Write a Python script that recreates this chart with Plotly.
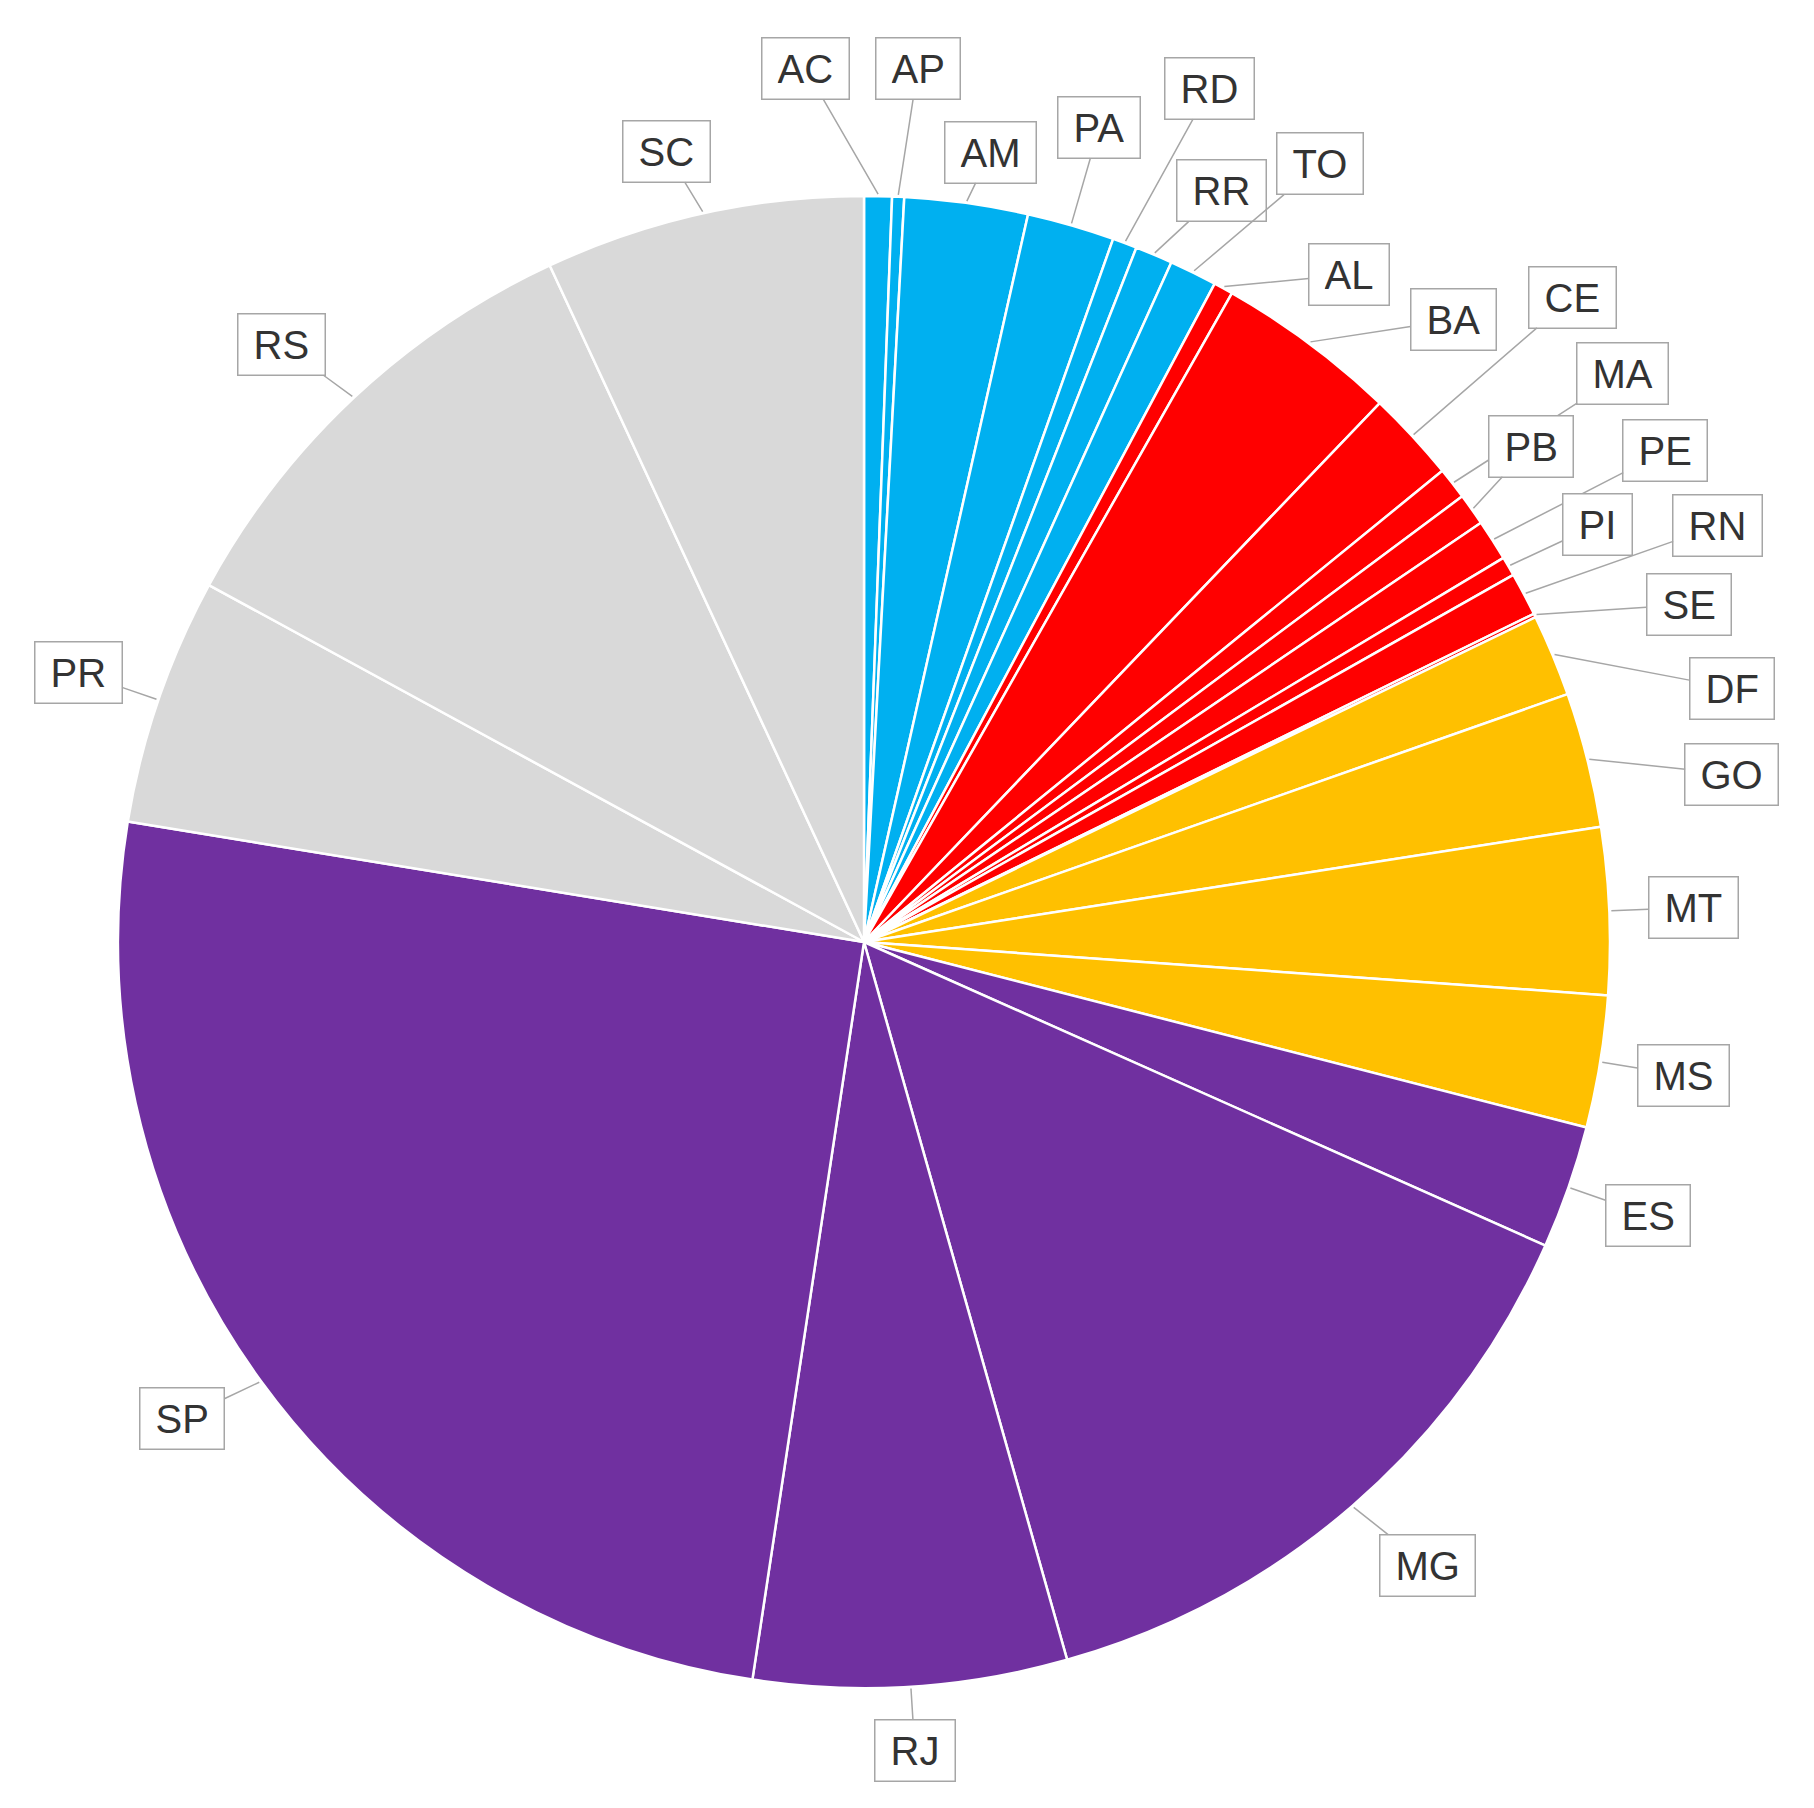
import math
import plotly.graph_objects as go

# states, clockwise from 12 o'clock
states = ["AC", "AP", "AM", "PA", "RD", "RR", "TO",
          "AL", "BA", "CE", "MA", "PB", "PE", "PI", "RN", "SE",
          "DF", "GO", "MT", "MS",
          "ES", "MG", "RJ", "SP",
          "PR", "RS", "SC"]
regions = (["Norte"] * 7 + ["Nordeste"] * 9 + ["Centro-Oeste"] * 4
           + ["Sudeste"] * 4 + ["Sul"] * 3)
shares = [0.60, 0.26, 2.67, 1.89, 0.53, 0.81, 1.03,
          0.42, 3.94, 1.97, 0.69, 0.69, 0.89, 0.42, 0.94, 0.08,
          1.78, 2.92, 3.61, 2.86,
          2.67, 13.94, 6.78, 25.19,
          5.36, 10.14, 6.92]

region_colors = {
    "Norte": "#00B0F0",
    "Nordeste": "#FF0000",
    "Centro-Oeste": "#FFC000",
    "Sudeste": "#7030A0",
    "Sul": "#D9D9D9",
}

# figure / pie geometry in pixels
W, H = 1798, 1792
CX, CY, R = 856, 934, 746

# label placement: (angle shift in degrees, distance from centre in px)
label_nudge = {
    "AC": (-4.9, 875), "AP": (0.9, 875), "AM": (1.2, 800), "PA": (0, 848),
    "RD": (1.6, 921), "RR": (2.6, 832), "TO": (4.2, 902), "AL": (7.2, 825),
    "BA": (6.8, 857), "CE": (0.4, 958), "MA": (1.1, 948), "PB": (-1.2, 831),
    "PE": (1.1, 940), "PI": (0.6, 844), "RN": (1.8, 950), "SE": (3.7, 891),
    "DF": (6.3, 904), "GO": (3.2, 884), "MG": (-1.2, 840), "RJ": (0, 810),
    "SP": (1.1, 832), "RS": (-1.1, 834), "SC": (-1.6, 815),
}
default_nudge = (0, 830)

fig = go.Figure(go.Pie(
    labels=states,
    values=shares,
    sort=False,
    direction="clockwise",
    rotation=0,
    textinfo="none",
    hoverinfo="label+percent",
    marker=dict(colors=[region_colors[r] for r in regions],
                line=dict(color="white", width=2.5)),
    domain=dict(x=[(CX - R) / W, (CX + R) / W],
                y=[(H - CY - R) / H, (H - CY + R) / H]),
    showlegend=False,
))

total = sum(shares)
cum = 0.0
annotations = []
for st, v in zip(states, shares):
    mid = 360.0 * (cum + v / 2) / total
    cum += v
    dang, dist = label_nudge.get(st, default_nudge)
    a = math.radians(mid)
    hx = CX + (R + 2) * math.sin(a)
    hy = CY - (R + 2) * math.cos(a)
    b = math.radians(mid + dang)
    tx = CX + dist * math.sin(b)
    ty = CY - dist * math.cos(b)
    annotations.append(dict(
        x=hx / W, y=1 - hy / H, xref="paper", yref="paper",
        ax=tx - hx, ay=ty - hy,
        text=st, showarrow=True, arrowhead=0, arrowwidth=1.5,
        arrowcolor="#A6A6A6", standoff=0,
        font=dict(family="Liberation Sans, Arial, sans-serif", size=40,
                  color="#333333"),
        bgcolor="white", bordercolor="#A6A6A6", borderwidth=1.5,
        borderpad=15, height=30,
    ))

fig.update_layout(
    width=W, height=H,
    margin=dict(l=0, r=0, t=0, b=0),
    paper_bgcolor="white",
    plot_bgcolor="white",
    annotations=annotations,
)

fig.write_html("out.html")
